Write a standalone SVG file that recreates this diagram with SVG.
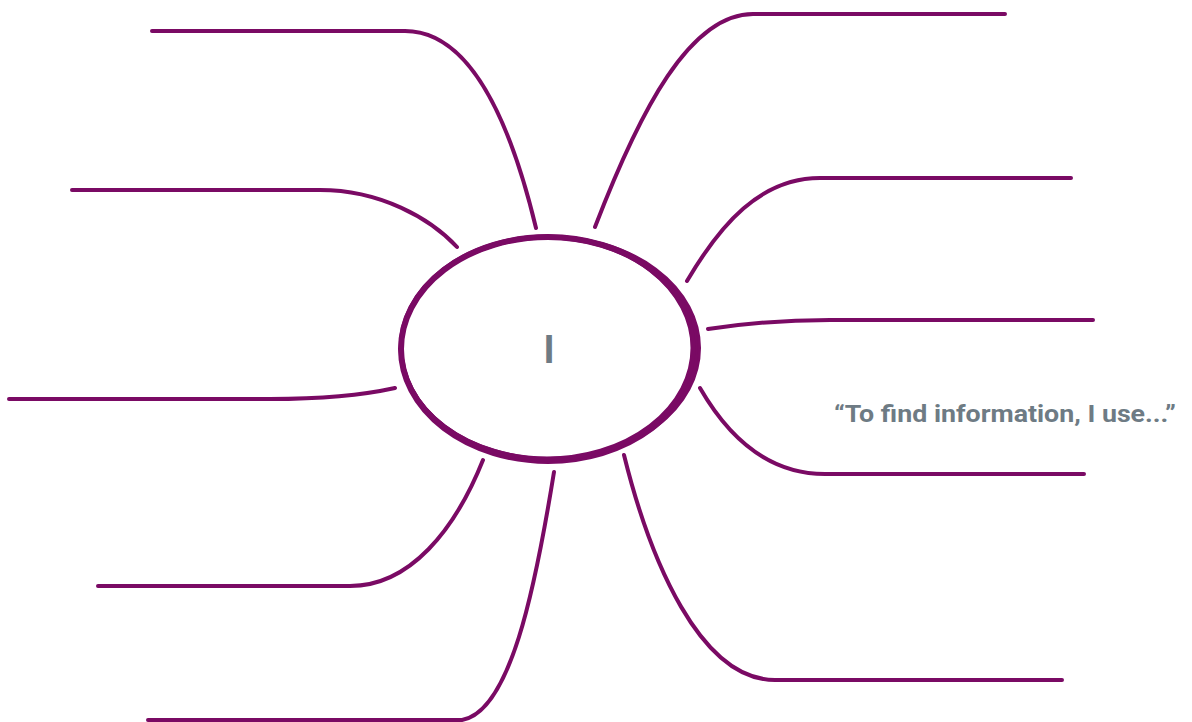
<svg xmlns="http://www.w3.org/2000/svg" width="1192" height="722" viewBox="0 0 1192 722">
<style>
.br{fill:none;stroke:#7a0a64;stroke-width:4;stroke-linecap:round}
.ring{fill:none;stroke:#7a0a64;stroke-linecap:round}
.lbl{font-family:Roboto,"Liberation Sans",sans-serif;font-weight:bold;fill:#6e7b84}
</style>
<rect width="1192" height="722" fill="#fff"/>
<g id="connectors">
<path class="br" d="M152,31 L405,31 C470,31 510,120 536,228"/>
<path class="br" d="M72,190 L320,190 C380,190 430,218 457,247"/>
<path class="br" d="M9,399 L270,399 C330,399 368,394 395,388"/>
<path class="br" d="M98,586 L350,586 C410,586 455,530 483,460"/>
<path class="br" d="M148,720 L462,720 C510,712 535,590 554,472"/>
<path class="br" d="M1005,14 L753,14 C690,14 640,110 595,227"/>
<path class="br" d="M1071,178 L820,178 C760,178 720,225 687,281"/>
<path class="br" d="M1093,320 L830,320 C780,320 740,324 708,329"/>
<path class="br" d="M1084,474 L825,474 C770,474 730,440 700,388"/>
<path class="br" d="M1062,680 L775,680 C700,680 650,560 624,455"/>
</g>
<g id="center">
<ellipse class="ring" cx="550" cy="348" rx="149" ry="111" stroke-width="4"/>
<ellipse class="ring" cx="548" cy="349" rx="147" ry="112" stroke-width="6"/>
<ellipse class="ring" cx="547" cy="348" rx="146" ry="111" stroke-width="5"/>
<text class="lbl" x="549" y="363" font-size="38" text-anchor="middle">I</text>
</g>
<g id="caption">
<text class="lbl" x="834" y="422" font-size="23" textLength="342" lengthAdjust="spacingAndGlyphs">“To find information, I use...”</text>
</g>
</svg>
